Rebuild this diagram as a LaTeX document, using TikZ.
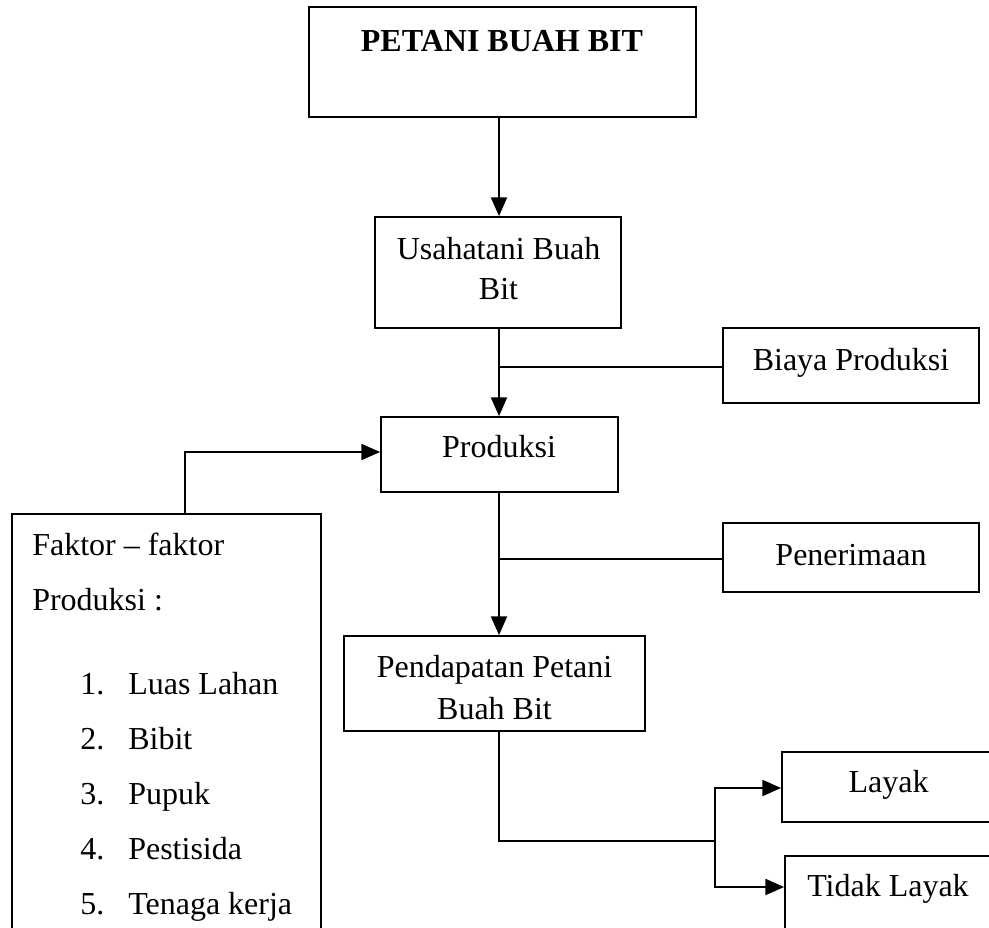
\documentclass[tikz,border=0pt]{standalone}
\usepackage{fontspec}
\setmainfont{Liberation Serif}
\usetikzlibrary{arrows.meta,fit}
\begin{document}
\begin{tikzpicture}[x=0.75pt,y=-0.75pt,
  box/.style={draw,line width=1.3pt,inner sep=0pt},
  txt/.style={inner sep=0pt,anchor=base,font=\fontsize{24}{28}\selectfont,yshift=-1.5pt},
  ltxt/.style={txt,anchor=base west},
  conn/.style={line width=1.3pt},
  arr/.style={conn,-{Triangle[length=14pt,width=12pt]}}]
\useasboundingbox (0,0) rectangle (989,928);
\clip (0,0) rectangle (989,928);
% boxes
\node[box,fit={(309,7) (696,117)}] (top) {};
\node[box,fit={(375,217) (621,328)}] (usaha) {};
\node[box,fit={(723,328) (979,403)}] (biaya) {};
\node[box,fit={(381,417) (618,492)}] (produksi) {};
\node[box,fit={(12,514) (321,960)}] (faktor) {};
\node[box,fit={(723,523) (979,592)}] (terima) {};
\node[box,fit={(344,636) (645,731)}] (pendapatan) {};
\node[box,fit={(782,752) (995,822)}] (layak) {};
\node[box,fit={(785,856) (992,960)}] (tidak) {};
% texts
\node[txt,font=\fontsize{24}{28}\selectfont\bfseries] (ttop) at (502,49) {PETANI BUAH BIT};
\node[txt] (tusaha1) at (498.5,257) {Usahatani Buah};
\node[txt] (tusaha2) at (498.5,297) {Bit};
\node[txt] (tbiaya) at (851,368) {Biaya Produksi};
\node[txt] (tprod) at (499,455) {Produksi};
\node[txt] (tterima) at (851,563) {Penerimaan};
\node[txt] (tpend1) at (494.5,675) {Pendapatan Petani};
\node[txt] (tpend2) at (494.5,717) {Buah Bit};
\node[txt] (tlayak) at (888.5,790) {Layak};
\node[txt] (ttidak) at (888,894) {Tidak Layak};
\node[ltxt] (tfak1) at (32,553) {Faktor -- faktor};
\node[ltxt] (tfak2) at (32,608) {Produksi :};
\node[ltxt] (n1) at (80,692) {1.};
\node[ltxt] (i1) at (128,692) {Luas Lahan};
\node[ltxt] (n2) at (80,747) {2.};
\node[ltxt] (i2) at (128,747) {Bibit};
\node[ltxt] (n3) at (80,802) {3.};
\node[ltxt] (i3) at (128,802) {Pupuk};
\node[ltxt] (n4) at (80,857) {4.};
\node[ltxt] (i4) at (128,857) {Pestisida};
\node[ltxt] (n5) at (80,912) {5.};
\node[ltxt] (i5) at (128,912) {Tenaga kerja};
% connectors
\coordinate (spine) at (499,0);
\coordinate (fk) at (185,452);
\coordinate (fork) at (715,841);
\coordinate (by) at (0,367);
\coordinate (py) at (0,559);
\coordinate (ly) at (0,788);
\coordinate (ty) at (0,887);
\draw[arr] (spine |- top.south) -- (spine |- usaha.north);
\draw[arr] (spine |- usaha.south) -- (spine |- produksi.north);
\draw[conn] (spine |- by) -- (biaya.west |- by);
\draw[arr] (fk |- faktor.north) -- (fk) -- (produksi.west |- fk);
\draw[arr] (spine |- produksi.south) -- (spine |- pendapatan.north);
\draw[conn] (spine |- py) -- (terima.west |- py);
\draw[conn] (spine |- pendapatan.south) -- (spine |- fork) -- (fork);
\draw[arr] (fork) |- (layak.west |- ly);
\draw[arr] (fork) |- (tidak.west |- ty);
\end{tikzpicture}
\end{document}
